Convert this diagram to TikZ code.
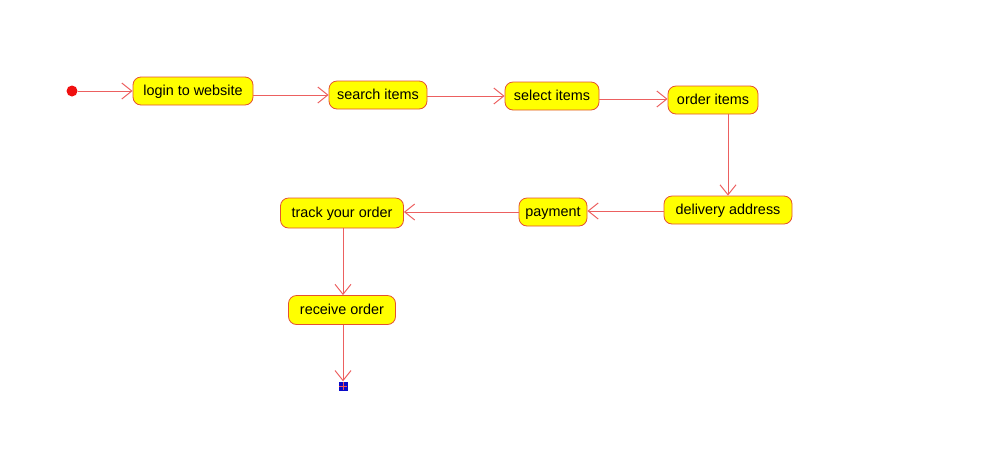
\documentclass[tikz,border=0pt]{standalone}
\usepackage{fontspec}
\setmainfont{Liberation Sans}
\usetikzlibrary{arrows.meta}
\definecolor{linec}{RGB}{236,96,96}
\definecolor{boxd}{RGB}{228,82,48}
\definecolor{boxf}{RGB}{255,255,0}
\definecolor{dotc}{RGB}{240,16,16}
\definecolor{endb}{RGB}{10,10,200}
\tikzset{
  act/.style={draw=boxd, fill=boxf, rounded corners=8pt, line width=0.8pt, inner sep=0pt,
    text height=10.5pt, text depth=2.5pt,
    font=\fontsize{14.4}{17}\selectfont, text=black},
  flow/.style={draw=linec, line width=1pt, -{Straight Barb[length=10pt,width=16pt,line width=1pt]}},
}
\begin{document}
\begin{tikzpicture}[x=1pt,y=-1pt]
\useasboundingbox (0,0) rectangle (998,467);
\node[circle, fill=dotc, inner sep=0pt, minimum size=11pt] (init) at (72,91) {};
\node[act, minimum width=120pt, minimum height=28pt] (login) at (193,91) {login to website};
\node[act, minimum width=98pt, minimum height=28pt] (search) at (378,95) {search items};
\node[act, minimum width=94pt, minimum height=28pt] (select) at (552,96) {select items};
\node[act, minimum width=90pt, minimum height=28pt] (order) at (713,100) {order items};
\node[act, minimum width=128pt, minimum height=28pt] (deliv) at (728,210) {delivery address};
\node[act, minimum width=68pt, minimum height=28pt] (pay) at (553,212) {payment};
\node[act, minimum width=123pt, minimum height=30pt] (track) at (342,213) {track your order};
\node[act, minimum width=107pt, minimum height=29pt] (recv) at (342,310) {receive order};
\node[rectangle, fill=endb, inner sep=0pt, minimum size=9pt] (final) at (343,386) {};
\draw[dotc!70, line width=0.9pt] ([xshift=-4pt]final.center) -- ([xshift=4pt]final.center)
  ([yshift=-4pt]final.center) -- ([yshift=4pt]final.center);

\draw[flow] (init) -- (login);
\draw[flow] (login.east |- 0,95) -- (search.west |- 0,95);
\draw[flow] (search.east |- 0,96) -- (select.west |- 0,96);
\draw[flow] (select.east |- 0,99) -- (order.west |- 0,99);
\draw[flow] (order.south -| deliv.north) -- (deliv.north);
\draw[flow] (deliv.west |- 0,211) -- (pay.east |- 0,211);
\draw[flow] (pay.west |- 0,212) -- (track.east |- 0,212);
\draw[flow] (track.south -| 343,0) -- (recv.north -| 343,0);
\draw[flow] (recv.south -| final.north) -- (final.north);
\end{tikzpicture}
\end{document}
